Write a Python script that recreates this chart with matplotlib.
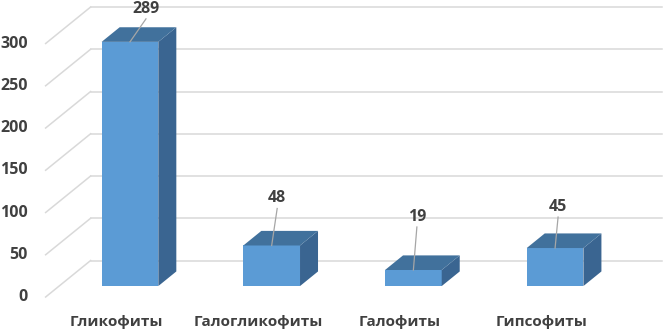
import matplotlib.pyplot as plt
import numpy as np

# данные
categories = ["Гликофиты", "Галогликофиты", "Галофиты", "Гипсофиты"]
values = [289, 48, 19, 45]
yticks = [0, 50, 100, 150, 200, 250, 300]

# смещения подписей значений (в пикселях), как на оригинале
label_dx = [16, 5.5, 3.5, 3]
label_dy = [33, 47, 53, 41]

plt.rcParams['font.family'] = ['Open Sans', 'DejaVu Sans']
txt_color = '#404040'

fig = plt.figure(figsize=(6.65, 3.30), dpi=100)
ax = fig.add_axes([0, 0, 1, 1])
ax.set_xlim(-0.822, 3.871)
ax.set_ylim(-39.05, 351.5)
ax.axis('off')

# "глубина" псевдо-3D: полный сдвиг от передней плоскости до задней стенки
DX = 0.3176
DY = 43.2
d1, d2 = 0.3, 0.7    # передняя и задняя грань столбцов
w = 0.4              # ширина столбца
n = len(categories)
px_x = 141.7         # пикселей на категорию
px_y = 0.845         # пикселей на единицу

def shift(x, y, d):
    return x + d * DX, y + d * DY

# сетка: задняя стенка и боковая
for v in yticks:
    x0, y0 = shift(-0.5, v, 1)
    x1, y1 = shift(n - 0.5, v, 1)
    ax.plot([x0, x1 + 0.03], [y0, y1], color='#d9d9d9', lw=1.1, zorder=1)
    ax.plot([-0.5, x0], [v, y0], color='#d9d9d9', lw=1.1, zorder=1)
    ax.text(-0.625, v, str(v), ha='right', va='center', fontsize=11.5,
            fontweight='bold', color=txt_color)

front_c = '#5b9bd5'
top_c = '#41719c'
side_c = '#3a6591'

for i, v in enumerate(values):
    xl, xr = i - w / 2, i + w / 2
    # передняя грань
    fx = [xl, xr, xr, xl]
    fy = [0, 0, v, v]
    fxs, fys = zip(*[shift(a, b, d1) for a, b in zip(fx, fy)])
    ax.fill(fxs, fys, color=front_c, zorder=3, lw=0)
    # боковая грань
    pts = [shift(xr, 0, d1), shift(xr, 0, d2), shift(xr, v, d2), shift(xr, v, d1)]
    sx, sy = zip(*pts)
    ax.fill(sx, sy, color=side_c, zorder=3, lw=0)
    # верхняя грань
    pts = [shift(xl, v, d1), shift(xr, v, d1), shift(xr, v, d2), shift(xl, v, d2)]
    tx, ty = zip(*pts)
    ax.fill(tx, ty, color=top_c, zorder=3, lw=0)

    # подпись значения с выноской
    cx, cy = shift(i, v, d1)
    lx = cx + label_dx[i] / px_x
    ly = cy + label_dy[i] / px_y
    ax.plot([cx, lx], [cy, ly - 10 / px_y], color='#a6a6a6', lw=0.9, zorder=4)
    ax.text(lx, ly, str(v), ha='center', va='center', fontsize=11.5,
            fontweight='bold', color=txt_color, zorder=5)

    # подпись категории
    ax.text(i, -22 / px_y - 4, categories[i], ha='center', va='center',
            fontsize=11, fontweight='bold', color=txt_color)

plt.savefig('out.png', dpi=100)
